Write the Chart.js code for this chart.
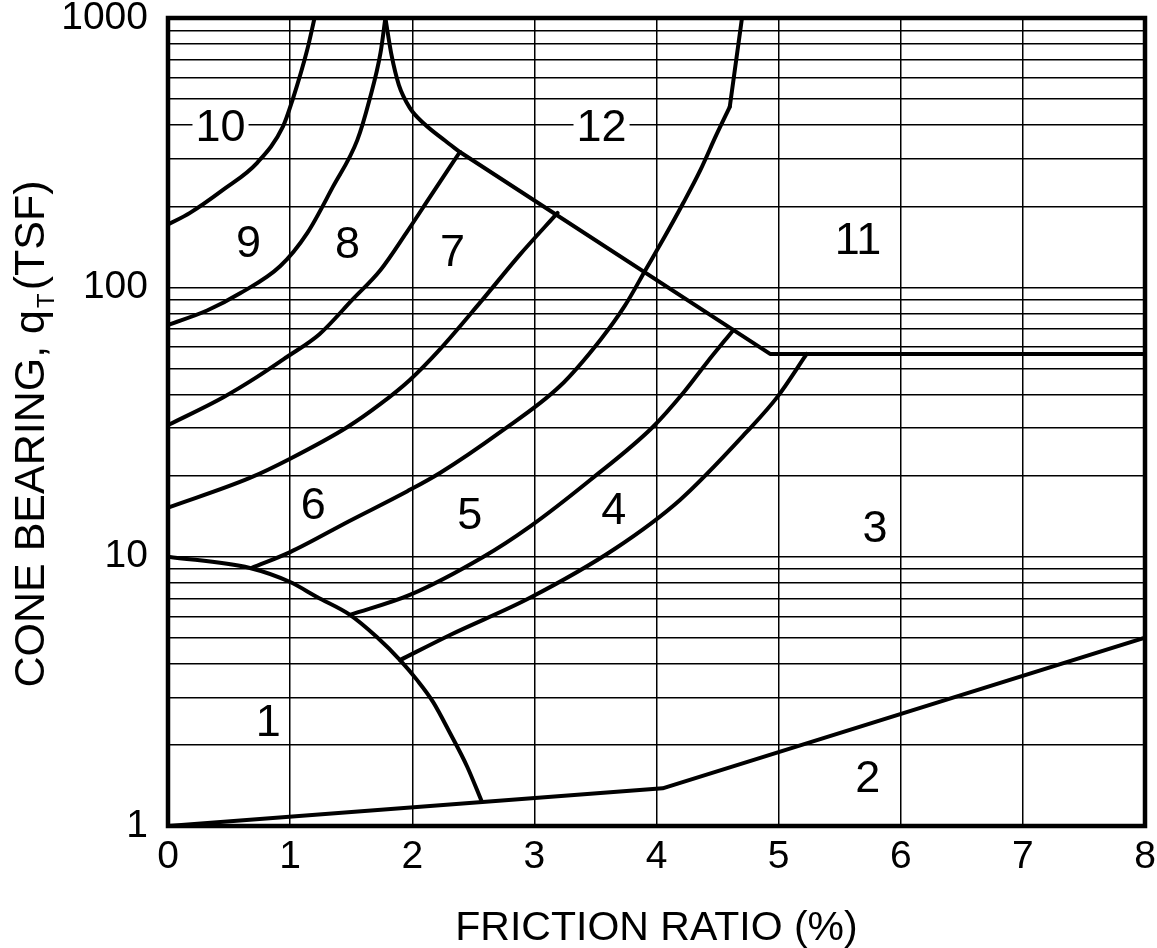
<!DOCTYPE html>
<html>
<head>
<meta charset="utf-8">
<title>Cone bearing vs friction ratio</title>
<script src="https://cdn.jsdelivr.net/npm/chart.js@4.4.1/dist/chart.umd.min.js"></script>
<style>
  html, body { margin: 0; background: #fff; }
  #wrap { width: 1157px; height: 948px; }
</style>
</head>
<body>
<div id="wrap"><canvas id="chart" width="1157" height="948"></canvas></div>
<script>
// ---- DATA: [friction ratio %, cone bearing TSF] ----
const xTicks = [0, 1, 2, 3, 4, 5, 6, 7, 8];
const yTicks = [1, 10, 100, 1000];

const edge1 = [[0,10],[0.67,9.08],[1.0,8.05],[1.22,7.08],[1.49,6.08],[1.71,5.03],[1.9,4.13],[2.04,3.48],[2.17,2.89],[2.31,2.21],[2.45,1.66],[2.57,1.23]];
const edge2 = [[0,1],[4.05,1.38],[8,5]];
const edge10_9 = [[0,171],[0.18,189],[0.45,230],[0.73,290],[0.94,394],[1.02,497],[1.14,762],[1.2,1000]];
const edge9_8 = [[0,72.5],[0.32,82],[0.59,95],[0.92,120],[1.14,159],[1.35,236],[1.55,352],[1.65,497],[1.74,742],[1.78,1000]];
const edge8_7 = [[0,30.8],[0.45,39],[0.73,46.5],[0.97,55],[1.24,67],[1.51,90],[1.74,116],[1.95,159],[2.15,218],[2.39,318]];
const edge7_6 = [[0,15.2],[0.67,19.6],[1.0,23.1],[1.47,30.3],[1.74,36.9],[1.98,45.3],[2.23,59.1],[2.56,88.3],[2.88,132],[3.19,189]];
const edge6_5 = [[0.69,9.1],[1.0,10.4],[1.49,13.6],[1.96,17.5],[2.23,20.5],[2.72,29],[3.21,43],[3.54,63.8],[3.74,85.3],[3.91,116],[4.07,155],[4.22,206],[4.36,273],[4.49,368],[4.6,468]];
const edge12_11 = [[4.6,468],[4.7,1000]];
const edge5_4 = [[1.49,6.08],[1.98,7.21],[2.58,9.97],[2.96,12.9],[3.46,19.3],[3.97,30.3],[4.22,40.6],[4.41,52.4],[4.63,69.5]];
const edge4_3 = [[1.9,4.13],[2.31,5.12],[2.96,7.02],[3.66,10.7],[4.19,16.2],[4.74,29.1],[4.99,39.2],[5.23,56.6]];
const edgeCusp = [[1.78,1000],[1.83,729],[1.89,565],[1.98,464],[2.1,404],[2.27,350],[2.39,318]];
const edgeTop = [[2.39,318],[4.93,56.6],[8,56.6]];

const zoneNames = ['1','2','3','4','5','6','7','8','9','10','11','12'];
const zoneX = [0.82, 5.73, 5.79, 3.65, 2.47, 1.19, 2.33, 1.47, 0.66, 0.43, 5.65, 3.55];
const zoneY = [2.45, 1.51, 12.8, 14.9, 14.3, 15.6, 136, 145, 146, 394, 150, 394];

const FONT = "'Liberation Sans', Arial, Helvetica, sans-serif";

function pts(arr){ return arr.map(p => ({ x: p[0], y: p[1] })); }
function curve(arr, smooth){
  return { data: pts(arr), borderColor: '#000', borderWidth: 4, pointRadius: 0,
           tension: smooth ? 0.4 : 0, cubicInterpolationMode: smooth ? 'monotone' : 'default',
           fill: false, borderCapStyle: 'round', borderJoinStyle: 'round' };
}
// keep only 1..9 x 10^n gridlines (Chart.js also adds 1.5 x 10^n)
function wholeSignificand(v){
  const e = Math.pow(10, Math.floor(Math.log10(v) + 1e-9));
  const m = v / e;
  return Math.abs(m - Math.round(m)) < 1e-6;
}

// frame, zone numbers and axis titles
const extras = {
  id: 'extras',
  afterDatasetsDraw(chart){
    const { ctx, chartArea: a, scales: { x, y } } = chart;
    ctx.save();
    ctx.strokeStyle = '#000';
    ctx.lineWidth = 4.5;
    ctx.strokeRect(a.left, a.top, a.right - a.left, a.bottom - a.top);

    ctx.font = `45px ${FONT}`;
    ctx.textAlign = 'center';
    ctx.textBaseline = 'middle';
    zoneNames.forEach((t, i) => {
      const px = x.getPixelForValue(zoneX[i]);
      const py = y.getPixelForValue(zoneY[i]);
      const w = ctx.measureText(t).width;
      ctx.fillStyle = '#fff';
      ctx.fillRect(px - w/2 - 3, py - 17, w + 6, 34);
      ctx.fillStyle = '#000';
      ctx.fillText(t, px, py + 2);
    });

    // x title
    ctx.font = `41px ${FONT}`;
    ctx.textBaseline = 'alphabetic';
    ctx.fillText('FRICTION RATIO (%)', (a.left + a.right) / 2, 940);

    // y title with subscript T
    ctx.translate(44, (a.top + a.bottom) / 2 + 12);
    ctx.rotate(-Math.PI / 2);
    const p1 = 'CONE BEARING, q', p2 = 'T', p3 = '(TSF)';
    ctx.font = `43px ${FONT}`;
    const w1 = ctx.measureText(p1).width, w3 = ctx.measureText(p3).width;
    ctx.font = `24px ${FONT}`;
    const w2 = ctx.measureText(p2).width + 5;
    const start = -(w1 + w2 + w3) / 2;
    ctx.textAlign = 'left';
    ctx.font = `43px ${FONT}`;
    ctx.fillText(p1, start, 0);
    ctx.fillText(p3, start + w1 + w2, 0);
    ctx.font = `24px ${FONT}`;
    ctx.fillText(p2, start + w1 + 2, 10);
    ctx.restore();
  }
};

const chart = new Chart(document.getElementById('chart').getContext('2d'), {
  type: 'line',
  data: {
    datasets: [
      curve(edge2, false),
      curve(edge1, true),
      curve(edge10_9, true),
      curve(edge9_8, true),
      curve(edge8_7, true),
      curve(edge7_6, true),
      curve(edge6_5, true),
      curve(edge12_11, false),
      curve(edge5_4, true),
      curve(edge4_3, true),
      curve(edgeCusp, true),
      curve(edgeTop, false)
    ]
  },
  options: {
    responsive: false,
    animation: false,
    layout: { padding: { top: 18, right: 12, left: 0, bottom: 0 } },
    plugins: { legend: { display: false }, tooltip: { enabled: false } },
    scales: {
      x: {
        type: 'linear', min: 0, max: 8,
        afterBuildTicks: s => { s.ticks = xTicks.map(v => ({ value: v })); },
        afterFit: s => { s.height = 122; s.paddingLeft = 0; s.paddingRight = 0; },
        ticks: { color: '#000', font: { family: FONT, size: 39, lineHeight: 1 }, padding: 12, maxRotation: 0, autoSkip: false },
        grid: { color: '#000', lineWidth: 1.5, drawTicks: false },
        border: { display: false }
      },
      y: {
        type: 'logarithmic', min: 1, max: 1000,
        afterBuildTicks: s => { s.ticks = s.ticks.filter(t => wholeSignificand(t.value)); },
        afterFit: s => { s.width = 168; s.paddingTop = 0; s.paddingBottom = 0; },
        ticks: {
          color: '#000', font: { family: FONT, size: 39, lineHeight: 1 }, padding: 20, autoSkip: false,
          callback: v => yTicks.includes(Math.round(v)) && Math.abs(v - Math.round(v)) < 1e-6 ? String(Math.round(v)) : ''
        },
        grid: { color: '#000', lineWidth: 1.5, drawTicks: false },
        border: { display: false }
      }
    }
  },
  plugins: [extras]
});
</script>
</body>
</html>
